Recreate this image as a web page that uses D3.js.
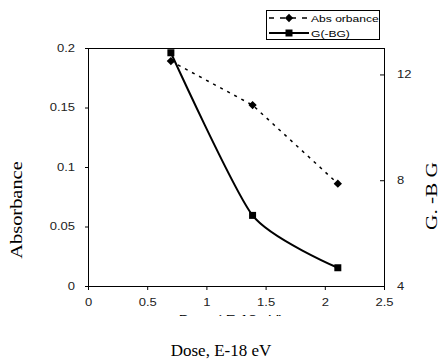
<!DOCTYPE html>
<html><head><meta charset="utf-8">
<script src="https://cdn.jsdelivr.net/npm/d3@7"></script>
<style>
html,body{margin:0;padding:0;background:#fff;}
svg{display:block;}
</style></head>
<body>
<svg id="chart" width="440" height="360"></svg>
<script>
const dose = [0.7, 1.39, 2.11];
const absorbance = [0.189, 0.152, 0.086];
const gbg = [12.82, 6.67, 4.69];
const xTicks = [0, 0.5, 1, 1.5, 2, 2.5];
const yLeftTicks = [0, 0.05, 0.1, 0.15, 0.2];
const yRightTicks = [4, 8, 12];
const seriesNames = ["Abs orbance", "G(-BG)"];
const titles = {x: "Dose, E-18 eV", xHidden: "Dose ( E-18 eV)", yLeft: "Absorbance", yRight: "G. -B G"};

const svg = d3.select("#chart");
const L = 88, R = 384, T = 48, B = 286;
const x = d3.scaleLinear().domain([0, 2.5]).range([L, R]);
const yL = d3.scaleLinear().domain([0, 0.2]).range([B, T]);
const yR = d3.scaleLinear().domain([4, 13]).range([B, T]);

const sans = "Arial, 'Liberation Sans', sans-serif";
const serif = "'Times New Roman', 'Liberation Serif', serif";
function stretch(sel, f) {
  sel.each(function(){
    const w = this.getComputedTextLength();
    d3.select(this).attr("textLength", w * f).attr("lengthAdjust", "spacingAndGlyphs");
  });
}

svg.append("line").attr("x1", L).attr("x2", R).attr("y1", T + 0.5).attr("y2", T + 0.5)
  .attr("stroke", "#000").attr("stroke-width", 1);

const fmt = d => String(d);
const gx = svg.append("g").attr("transform", `translate(0,${B})`)
  .call(d3.axisBottom(x).tickValues(xTicks).tickFormat(fmt).tickSizeOuter(0).tickSizeInner(4).tickPadding(9));
const gyl = svg.append("g").attr("transform", `translate(${L},0)`)
  .call(d3.axisLeft(yL).tickValues(yLeftTicks).tickFormat(fmt).tickSizeOuter(0).tickSizeInner(3).tickPadding(10));
const gyr = svg.append("g").attr("transform", `translate(${R},0)`)
  .call(d3.axisRight(yR).tickValues(yRightTicks).tickFormat(fmt).tickSizeOuter(0).tickSizeInner(-4).tickPadding(13));
[gx, gyl, gyr].forEach(g => {
  g.select(".domain").attr("stroke", "#000").attr("stroke-width", 1);
  g.selectAll(".tick line").attr("stroke", "#000");
  g.selectAll("text").attr("font-family", sans).attr("font-size", 10).attr("fill", "#222");
});
gyr.select(".domain").attr("d", `M0.5,${T}V${B}`);
gyl.select(".domain").attr("d", `M0.5,${T}V${B + 0.5}`);
gx.select(".domain").attr("d", `M${L},0.5H${R}`);
[gx, gyl, gyr].forEach(g => stretch(g.selectAll("text"), 1.3));

const absData = dose.map((d, i) => [d, absorbance[i]]);
const gData = dose.map((d, i) => [d, gbg[i]]);

svg.append("path").datum(absData)
  .attr("d", d3.line().x(d => x(d[0])).y(d => yL(d[1])))
  .attr("fill", "none").attr("stroke", "#000").attr("stroke-width", 1.5).attr("stroke-dasharray", "3,5");

svg.append("path").datum(gData)
  .attr("d", d3.line().x(d => x(d[0])).y(d => yR(d[1])).curve(d3.curveCardinal.tension(0.35)))
  .attr("fill", "none").attr("stroke", "#000").attr("stroke-width", 2);

const diamond = d3.symbol().type(d3.symbolDiamond2).size(44);
const square = d3.symbol().type(d3.symbolSquare).size(49);

svg.selectAll(".dia").data(absData).enter().append("path")
  .attr("transform", d => `translate(${x(d[0])},${yL(d[1])})`)
  .attr("d", diamond).attr("fill", "#000");
svg.selectAll(".sq").data(gData).enter().append("path")
  .attr("transform", d => `translate(${x(d[0])},${yR(d[1])})`)
  .attr("d", square).attr("fill", "#000");

const lg = svg.append("g");
lg.append("rect").attr("x", 266.5).attr("y", 10.5).attr("width", 113).attr("height", 29)
  .attr("fill", "#fff").attr("stroke", "#000").attr("stroke-width", 1);
const rows = [18, 33];
lg.append("line").attr("x1", 269).attr("x2", 309).attr("y1", rows[0]).attr("y2", rows[0])
  .attr("stroke", "#000").attr("stroke-width", 1.5).attr("stroke-dasharray", "5,6");
lg.append("path").attr("transform", `translate(289,${rows[0]})`).attr("d", diamond).attr("fill", "#000");
lg.append("line").attr("x1", 269).attr("x2", 309).attr("y1", rows[1]).attr("y2", rows[1])
  .attr("stroke", "#000").attr("stroke-width", 2);
lg.append("path").attr("transform", `translate(289,${rows[1]})`).attr("d", square).attr("fill", "#000");
const lt = lg.selectAll(".lt").data(seriesNames).enter().append("text")
  .attr("x", 311).attr("y", (d, i) => rows[i] + 3.5)
  .attr("font-family", sans).attr("font-size", 9.5).attr("fill", "#000").text(d => d);
stretch(lt, 1.27);

svg.append("text").attr("x", 221).attr("y", 356).attr("text-anchor", "middle")
  .attr("font-family", serif).attr("font-size", 17).attr("fill", "#000").text(titles.x);

svg.append("defs").append("clipPath").attr("id", "cut")
  .append("rect").attr("x", 0).attr("y", 309).attr("width", 440).attr("height", 7);
const hid = svg.append("text").attr("x", 231).attr("y", 323).attr("text-anchor", "middle")
  .attr("clip-path", "url(#cut)")
  .attr("font-family", sans).attr("font-size", 11.5).attr("fill", "#000").text(titles.xHidden);
stretch(hid, 1.27);

const yt = svg.append("text").attr("transform", "translate(22,210) rotate(-90)").attr("text-anchor", "middle")
  .attr("font-family", serif).attr("font-size", 17).attr("fill", "#000").text(titles.yLeft);
stretch(yt, 1.2);
const yrt = svg.append("text").attr("transform", "translate(437,196) rotate(-90)").attr("text-anchor", "middle")
  .attr("font-family", serif).attr("font-size", 17).attr("fill", "#000").text(titles.yRight);
stretch(yrt, 1.25);
</script>
</body></html>
